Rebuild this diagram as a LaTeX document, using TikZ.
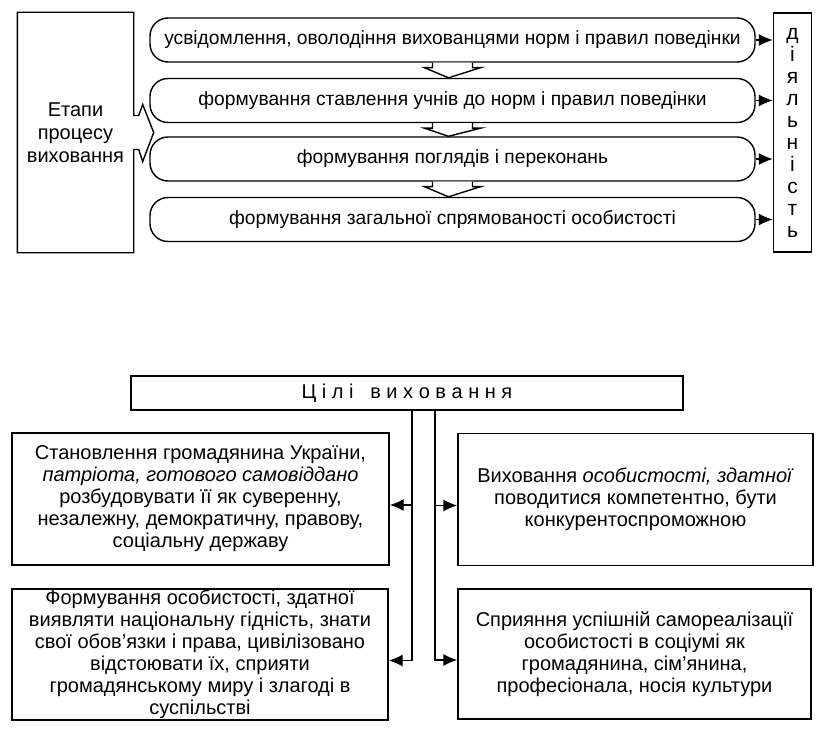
\documentclass[tikz,border=0pt]{standalone}
\usepackage{fontspec}
\setmainfont{Liberation Sans}
\usetikzlibrary{arrows.meta,calc}

\begin{document}
\begin{tikzpicture}[x=0.5pt,y=-0.5pt,line width=0.7pt,>={Latex[length=7pt,width=6pt]},
    txt/.style={font=\fontsize{10pt}{11pt}\selectfont,align=center,inner sep=0pt},
    stagebox/.style={txt,draw,rounded corners=9pt,minimum width=302.5pt,minimum height=22pt,font=\fontsize{9.6pt}{11pt}\selectfont},
    goalbox/.style={txt,draw,minimum width=#1,minimum height=66pt}]
    \useasboundingbox (0,0) rectangle (825,733);
    % stages of upbringing
    \node[txt,minimum width=57.5pt,minimum height=119.5pt,font=\fontsize{10pt}{11.5pt}\selectfont] (E) at (75.5,132.5) {Етапи\\процесу\\виховання};
    \draw (E.east) ++(0,-17) -- ++(5,0) -- ++(4,-11) -- ++(11,28) -- ++(-11,29) -- ++(-4,-12) -- ++(-5,0)
        -- (E.south east) -- (E.south west) -- (E.north west) -- (E.north east) -- cycle;
    \node[stagebox] (S1) at (452.5,40) {усвідомлення, оволодіння вихованцями норм і правил поведінки};
    \node[stagebox] (S2) at (452.5,100.5) {формування ставлення учнів до норм і правил поведінки};
    \node[stagebox] (S3) at (452.5,159) {формування поглядів і переконань};
    \node[stagebox] (S4) at (452.5,219.5) {формування загальної спрямованості особистості};
    \node[txt,draw,minimum width=19pt,minimum height=119.5pt,font=\fontsize{10.5pt}{11pt}\selectfont] (D) at (792.5,132.5) {д\\і\\я\\л\\ь\\н\\і\\с\\т\\ь};
    \foreach \a/\b in {S1/S2,S2/S3,S3/S4}
        \draw[fill=white] ($(\a.south)+(-20,0)$) -- ++(0,5) -- ++(-8,0) -- ($(\b.north)+(-4,0)$)
            -- ($(\a.south)+(28,5)$) -- ++(-8,0) -- ++(0,-5);
    \foreach \s in {S1,S2,S3,S4}
        \draw[->] (\s.east) -- (\s.east -| D.west);

    % aims of upbringing
    \node[txt,draw,minimum width=276pt,minimum height=17pt] (C) at (407,393) {Ц і л і \ \ в и х о в а н н я};
    \node[goalbox=188.5pt] (C1) at (200.5,499) {Становлення громадянина України,\\\textit{патріота, готового самовіддано}\\розбудовувати її як суверенну,\\незалежну, демократичну, правову,\\соціальну державу};
    \node[goalbox=177.5pt] (C2) at (635.5,499.5) {Виховання \textit{особистості, здатної}\\поводитися компетентно, бути\\конкурентоспроможною};
    \node[goalbox=188pt,minimum height=65.5pt] (C3) at (200,654.5) {Формування особистості, здатної\\виявляти національну гідність, знати\\свої обов'язки і права, цивілізовано\\відстоювати їх, сприяти\\громадянському миру і злагоді в\\суспільстві};
    \node[goalbox=176.5pt,minimum height=65pt] (C4) at (634.5,654) {Сприяння успішній самореалізації\\особистості в соціумі як\\громадянина, сім'янина,\\професіонала, носія культури};
    \coordinate (tl) at (412,0);
    \coordinate (tr) at (435,0);
    \draw[->] (C.south -| tl) |- ([yshift=-3pt]C1.east);
    \draw[->] (C.south -| tl) |- ([yshift=-3pt]C3.east);
    \draw[->] (C.south -| tr) |- ([yshift=-3pt]C2.west);
    \draw[->] (C.south -| tr) |- ([yshift=-3pt]C4.west);
\end{tikzpicture}
\end{document}
